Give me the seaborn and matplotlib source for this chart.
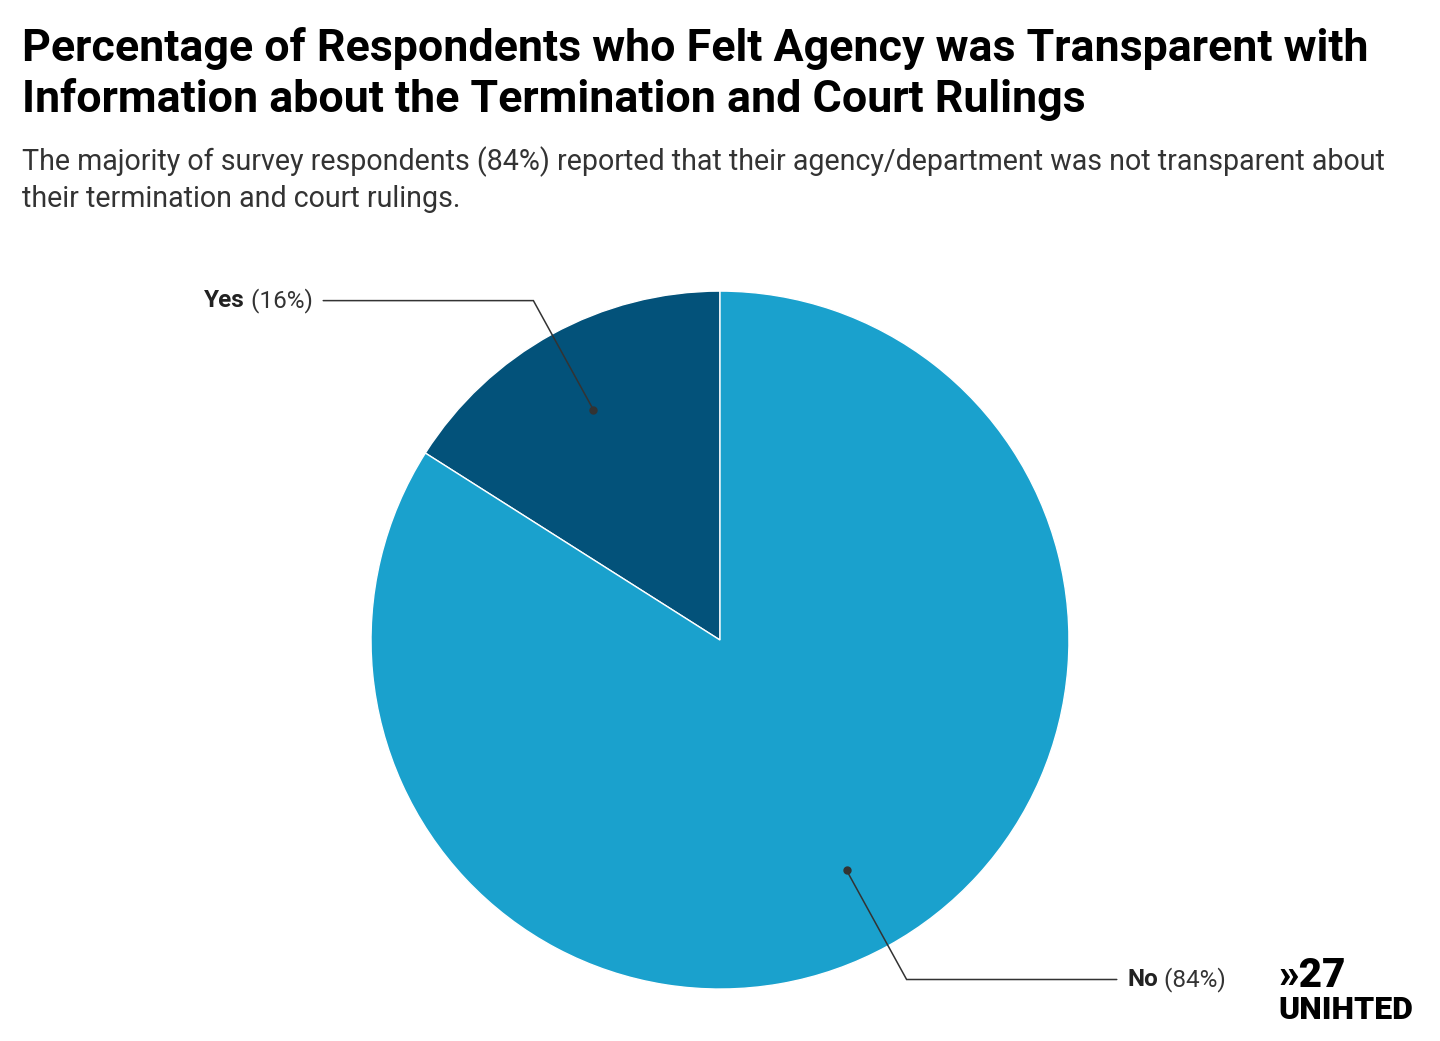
import numpy as np
import seaborn as sns
import matplotlib.pyplot as plt

# data
answers = ["Yes", "No"]
shares = [16, 84]
colors = ["#03527a", "#1aa1cd"]

title = ("Percentage of Respondents who Felt Agency was Transparent with\n"
         "Information about the Termination and Court Rulings")
subtitle = ("The majority of survey respondents (84%) reported that their agency/department was not transparent about\n"
            "their termination and court rulings.")

sns.set_theme(style="white")
plt.rcParams['font.family'] = ['Roboto', 'DejaVu Sans']

fig = plt.figure(figsize=(14.4, 10.41), dpi=100)
fig.patch.set_facecolor("white")

# title + subtitle
fig.text(0.015, 0.974, title, fontsize=32.2, fontweight='bold', color='black',
         va='top', ha='left', linespacing=1.22)
fig.text(0.015, 0.859, subtitle, fontsize=20.6, color='#333333',
         va='top', ha='left', linespacing=1.34)

# pie axes, centred at (720, 640) px with radius 349 px
ax = fig.add_axes([0.2334, 0.0164, 0.5332, 0.7375])
wedges, _ = ax.pie(shares, colors=colors, startangle=90, counterclock=True,
                   radius=1, wedgeprops=dict(edgecolor='white', linewidth=1))
ax.set_xlim(-1.1, 1.1)
ax.set_ylim(-1.1, 1.1)
ax.set_aspect('equal')
ax.axis('off')

# leader lines with labels
for w, name, pct in zip(wedges, answers, shares):
    mid = np.deg2rad((w.theta1 + w.theta2) / 2)
    dx, dy = np.cos(mid), np.sin(mid)
    dot = (0.753 * dx, 0.753 * dy)
    elbow = (1.11 * dx, 1.11 * dy)
    side = np.sign(dx)
    end = (side * 1.137, elbow[1])
    ax.plot([dot[0], elbow[0], end[0]], [dot[1], elbow[1], end[1]],
            color='#333333', lw=1.1, clip_on=False, solid_joinstyle='miter')
    ax.plot(dot[0], dot[1], 'o', color='#333333', ms=5, clip_on=False)
    tx = end[0] + side * 0.03
    if side > 0:
        t1 = ax.text(tx, end[1], name, fontsize=17.5, fontweight='bold',
                     color='#222222', ha='left', va='center')
        fig.canvas.draw()
        bb = t1.get_window_extent().transformed(ax.transData.inverted())
        ax.text(bb.x1, end[1], f" ({pct}%)", fontsize=17.5, color='#333333',
                ha='left', va='center')
    else:
        t2 = ax.text(tx, end[1], f" ({pct}%)", fontsize=17.5, color='#333333',
                     ha='right', va='center')
        fig.canvas.draw()
        bb = t2.get_window_extent().transformed(ax.transData.inverted())
        ax.text(bb.x0, end[1], name, fontsize=17.5, fontweight='bold',
                color='#222222', ha='right', va='center')

# logo
fig.text(0.888, 0.052, "»27", fontsize=29, fontweight='heavy', color='black',
         ha='left', va='baseline')
fig.text(0.888, 0.021, "UNIHTED", fontsize=23, fontweight='heavy', color='black',
         ha='left', va='baseline')

fig.savefig("out.png", dpi=100, facecolor="white")
